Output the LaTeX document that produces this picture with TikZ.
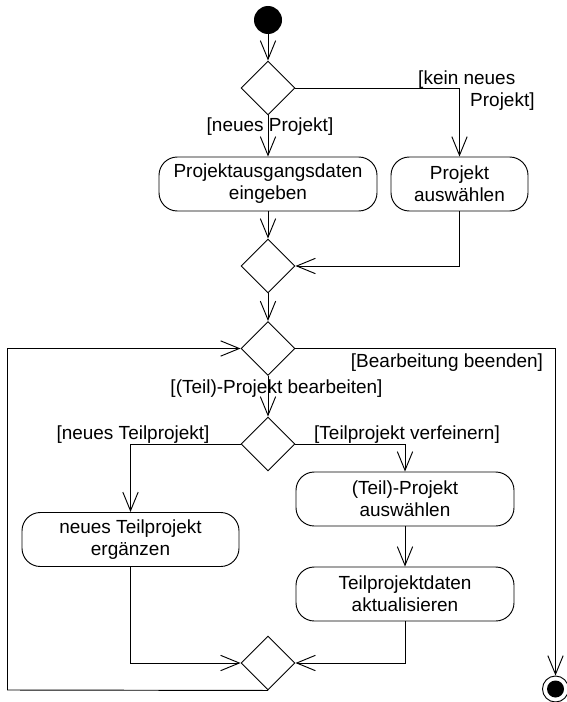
\documentclass[tikz,border=0pt]{standalone}
\usepackage{fontspec}
\setmainfont{Liberation Sans}
\usepackage{tikz}
\usepackage{xcolor}
\usetikzlibrary{shapes.geometric, arrows.meta, positioning, calc}
\definecolor{dark}{RGB}{0, 0, 0}
\tikzset{
    action/.style={rectangle, rounded corners=0.55cm, draw=dark, line width=0.8pt, align=center, font=\fontsize{16.2}{18.7}\selectfont, minimum width=6.54cm, minimum height=1.62cm, inner sep=2pt},
    branch/.style={diamond, draw=dark, line width=0.8pt, minimum width=1.62cm, minimum height=1.62cm, inner sep=0pt},
    guard/.style={align=left, font=\fontsize{16.2}{18.7}\selectfont, inner sep=0pt},
    startnode/.style={circle, fill=dark, minimum size=0.84cm, inner sep=0pt},
    endnode/.style={circle, draw=dark, line width=0.8pt, minimum size=0.78cm, inner sep=0pt, path picture={\fill[dark] (path picture bounding box.center) circle (0.255cm);}},
    arr/.style={-{Straight Barb[length=0.56cm, width=0.46cm]}, line width=0.8pt, dark}
}
\begin{document}
\begin{tikzpicture}[x=0.03cm, y=-0.03cm]
        \useasboundingbox (0,0) rectangle (567,702);
        % Projekt waehlen
        \node[startnode] (start) at (268,20) {};
        \node[branch] (wahl) at (268,88) {};
        \node[action] (eingabe) at (268,184) {Projektausgangsdaten\\eingeben};
        \node[action, minimum width=4.11cm] (auswahl) at (459.5,184) {Projekt\\auswählen};
        \node[branch] (merge) at (268,266) {};
        \node[guard] (gneu) at (270,127) {[neues Projekt]};
        \node[guard, anchor=west] (gkein) at (418,91) {[kein neues\\\hspace*{1.56cm}Projekt]};
        \draw[arr] (start)--(wahl);
        \draw[arr] (wahl)--(eingabe);
        \draw[arr] (wahl.east)-|(auswahl.north);
        \draw[arr] (eingabe)--(merge);
        \draw[arr] (auswahl.south)|-(merge.east);
        % Bearbeitungsschleife
        \node[branch] (schleife) at (268,348.5) {};
        \node[branch] (teil) at (268,444) {};
        \node[action, minimum width=6.51cm] (ergaenzen) at (130.5,539.5) {neues Teilprojekt\\ergänzen};
        \node[action] (teilwahl) at (405,499) {(Teil)-Projekt\\auswählen};
        \node[action] (aktual) at (405,594) {Teilprojektdaten\\aktualisieren};
        \node[branch] (zusammen) at (268,663) {};
        \node[endnode] (ende) at (555.5,689) {};
        \coordinate (rueck) at (7.5,690);
        \node[guard] (gbeenden) at (447,363) {[Bearbeitung beenden]};
        \node[guard] (gbearb) at (276.5,389) {[(Teil)-Projekt bearbeiten]};
        \node[guard] (gteilneu) at (133,435) {[neues Teilprojekt]};
        \node[guard] (gverf) at (407,435) {[Teilprojekt verfeinern]};
        \draw[arr] (merge)--(schleife);
        \draw[arr] (schleife.east)-|(ende.north);
        \draw[arr] (schleife)--(teil);
        \draw[arr] (teil.west)-|(ergaenzen.north);
        \draw[arr] (teil.east)-|(teilwahl.north);
        \draw[arr] (teilwahl)--(aktual);
        \draw[arr] (ergaenzen.south)|-(zusammen.west);
        \draw[arr] (aktual.south)|-(zusammen.east);
        \draw[arr] (zusammen.south)--(rueck)|-(schleife.west);
    \end{tikzpicture}
\end{document}
